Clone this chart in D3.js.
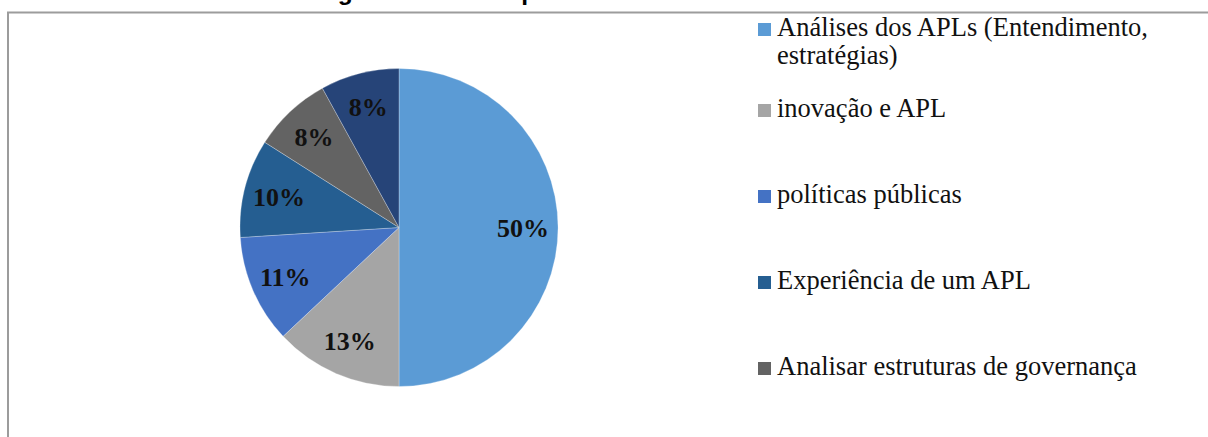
<!DOCTYPE html>
<html>
<head>
<meta charset="utf-8">
<script src="https://cdn.jsdelivr.net/npm/d3@7"></script>
<style>
  html, body { margin: 0; padding: 0; background: #fff; }
  svg { display: block; }
  .serif { font-family: "Liberation Serif", "Times New Roman", Times, serif; }
  .sans { font-family: "Liberation Sans", Arial, Helvetica, sans-serif; }
</style>
</head>
<body>
<svg id="chart" width="1208" height="437"></svg>
<script>
// Share of each research theme
const categories = [
  "Análises dos APLs (Entendimento, estratégias)",
  "inovação e APL",
  "políticas públicas",
  "Experiência de um APL",
  "Analisar estruturas de governança",
  "Outros"
];
// Legend text, broken into lines (only the entries that fit in the frame)
const legendLines = [
  ["Análises dos APLs (Entendimento,", "estratégias)"],
  ["inovação e APL"],
  ["políticas públicas"],
  ["Experiência de um APL"],
  ["Analisar estruturas de governança"]
];
const values = [50, 13, 11, 10, 8, 8];
const colors = ["#5B9BD5", "#A5A5A5", "#4472C4", "#255E91", "#636363", "#264478"];
const titleText = "Figura 4 – Temas por área de estudo";

const svg = d3.select("#chart");

// Title of the figure, sitting above the frame
svg.append("text")
  .attr("class", "sans")
  .attr("x", 316)
  .attr("y", 0)
  .attr("font-weight", "bold")
  .attr("font-size", 24.5)
  .attr("fill", "#000")
  .text(titleText);

// Chart frame
svg.append("rect")
  .attr("x", 8)
  .attr("y", 12.5)
  .attr("width", 1400)
  .attr("height", 600)
  .attr("fill", "none")
  .attr("stroke", "#9c9c9c")
  .attr("stroke-width", 2);

const cx = 399, cy = 227.5, r = 159;

const color = d3.scaleOrdinal().domain(categories).range(colors);

const pie = d3.pie().sort(null).value(d => d.value).startAngle(0).endAngle(2 * Math.PI);
const data = categories.map((c, i) => ({ category: c, value: values[i] }));
const arcs = pie(data);

const arc = d3.arc().innerRadius(0).outerRadius(r);
const labelArc = d3.arc().innerRadius(r * 0.78).outerRadius(r * 0.78);

const g = svg.append("g").attr("transform", `translate(${cx},${cy})`);

g.selectAll("path.slice")
  .data(arcs)
  .join("path")
  .attr("class", "slice")
  .attr("d", arc)
  .attr("fill", d => color(d.data.category))
  .attr("stroke", "#ffffff")
  .attr("stroke-opacity", 0.45)
  .attr("stroke-width", 0.6);

const total = d3.sum(values);
g.selectAll("text.pct")
  .data(arcs)
  .join("text")
  .attr("class", "pct serif")
  .attr("transform", d => `translate(${labelArc.centroid(d)})`)
  .attr("text-anchor", "middle")
  .attr("dy", "0.35em")
  .attr("font-weight", "bold")
  .attr("font-size", 26)
  .attr("fill", "#111")
  .text(d => d3.format(".0%")(d.data.value / total));

// Legend
const legendX = 758;
const lineGap = 28;
const legendY = i => (i === 0 ? 36 : 117 + (i - 1) * 86);

const legend = svg.append("g");
const items = legend.selectAll("g.item")
  .data(data.slice(0, legendLines.length))
  .join("g")
  .attr("class", "item")
  .attr("transform", (d, i) => `translate(${legendX},${legendY(i)})`);

items.append("rect")
  .attr("x", 0)
  .attr("y", -13)
  .attr("width", 13)
  .attr("height", 13)
  .attr("fill", d => color(d.category));

items.append("text")
  .attr("class", "serif")
  .attr("x", 19)
  .attr("y", 0)
  .attr("font-size", 26.5)
  .attr("fill", "#111")
  .selectAll("tspan")
  .data((d, i) => legendLines[i])
  .join("tspan")
  .attr("x", 19)
  .attr("dy", (d, j) => (j === 0 ? 0 : lineGap))
  .text(d => d);
</script>
</body>
</html>
